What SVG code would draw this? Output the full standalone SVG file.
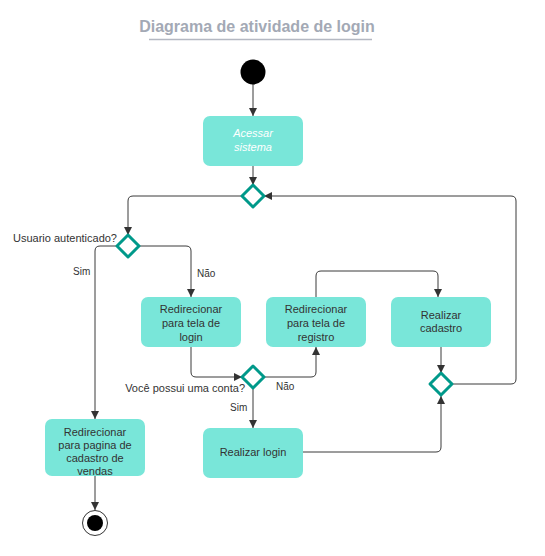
<svg xmlns="http://www.w3.org/2000/svg" width="545" height="556" viewBox="0 0 545 556">
<style>
  text { font-family: "Liberation Sans", Arial, sans-serif; fill: #333333; }
  .title { font-size: 16px; font-weight: bold; fill: #A3A9B5; }
  .box { fill: #79E6D9; }
  .bt { font-size: 11px; text-anchor: middle; }
  .it { font-size: 11px; text-anchor: middle; font-style: italic; fill: #FFFFFF; }
  .lbl { font-size: 11px; }
  .sm { font-size: 10px; }
  .dia { fill: #FFFFFF; stroke: #00998A; stroke-width: 3; stroke-linejoin: round; }
  .conn path { fill: none; stroke: #3A3A3A; stroke-width: 1; marker-end: url(#arr); }
</style>
<defs>
  <marker id="arr" markerUnits="userSpaceOnUse" markerWidth="9" markerHeight="9" refX="8" refY="4" orient="auto">
    <path d="M0,0 L8,4 L0,8 z" fill="#333333"/>
  </marker>
</defs>
<rect width="545" height="556" fill="#FFFFFF"/>
<g id="title">
  <text class="title" x="257" y="32" text-anchor="middle">Diagrama de atividade de login</text>
  <line x1="149" y1="39.5" x2="372" y2="39.5" stroke="#B4B8C2" stroke-width="1.5"/>
</g>
<g class="conn" id="connectors">
  <path d="M253,84 V116"/>
  <path d="M253,166 V185"/>
  <path d="M242,196 H133 Q128,196 128,201 V235"/>
  <path d="M117,246 H100 Q95,246 95,251 V419"/>
  <path d="M139,246 H186 Q191,246 191,251 V297"/>
  <path d="M191,347 V372 Q191,377 196,377 H242"/>
  <path d="M264,377 H311 Q316,377 316,372 V347"/>
  <path d="M316,297 V276 Q316,271 321,271 H433 Q438,271 438,276 V297"/>
  <path d="M441,347 V373"/>
  <path d="M253,388 V428"/>
  <path d="M303,452 H436 Q441,452 441,447 V396"/>
  <path d="M452,384 H511 Q516,384 516,379 V201 Q516,196 511,196 H264"/>
  <path d="M95,476 V510"/>
</g>
<g id="labels">
  <text class="lbl" x="117" y="242" text-anchor="end">Usuario autenticado?</text>
  <text class="sm" x="73" y="275">Sim</text>
  <text class="sm" x="197" y="277">Não</text>
  <text class="lbl" x="245" y="392" text-anchor="end">Você possui uma conta?</text>
  <text class="sm" x="276" y="390">Não</text>
  <text class="sm" x="230" y="411">Sim</text>
</g>
<g id="start"><circle cx="253" cy="72" r="12.5" fill="#000000"/></g>
<g id="acessar">
  <rect class="box" x="203" y="116" width="100" height="50" rx="7"/>
  <text class="it" x="253" y="137">Acessar</text>
  <text class="it" x="253" y="150.5">sistema</text>
</g>
<g id="merge1"><path class="dia" d="M253,185 L264,196 L253,207 L242,196 z"/></g>
<g id="decisao-autenticado"><path class="dia" d="M128,235 L139,246 L128,257 L117,246 z"/></g>
<g id="redir-login">
  <rect class="box" x="141" y="297" width="100" height="50" rx="7"/>
  <text class="bt" x="191" y="313">Redirecionar</text>
  <text class="bt" x="191" y="327">para tela de</text>
  <text class="bt" x="191" y="340.5">login</text>
</g>
<g id="redir-registro">
  <rect class="box" x="266" y="297" width="100" height="50" rx="7"/>
  <text class="bt" x="316" y="313">Redirecionar</text>
  <text class="bt" x="316" y="327">para tela de</text>
  <text class="bt" x="316" y="340.5">registro</text>
</g>
<g id="realizar-cadastro">
  <rect class="box" x="391" y="297" width="100" height="50" rx="7"/>
  <text class="bt" x="441" y="319">Realizar</text>
  <text class="bt" x="441" y="332">cadastro</text>
</g>
<g id="decisao-conta"><path class="dia" d="M253,366 L264,377 L253,388 L242,377 z"/></g>
<g id="merge2"><path class="dia" d="M441,373 L452,384 L441,395 L430,384 z"/></g>
<g id="realizar-login">
  <rect class="box" x="203" y="428" width="100" height="50" rx="7"/>
  <text class="bt" x="253" y="456">Realizar login</text>
</g>
<g id="redir-vendas">
  <rect class="box" x="45" y="419" width="100" height="57" rx="7"/>
  <text class="bt" x="95" y="435.5">Redirecionar</text>
  <text class="bt" x="95" y="448.7">para pagina de</text>
  <text class="bt" x="95" y="462">cadastro de</text>
  <text class="bt" x="95" y="475">vendas</text>
</g>
<g id="end">
  <circle cx="95" cy="523" r="12.5" fill="#FFFFFF" stroke="#000000" stroke-width="0.8"/>
  <circle cx="95" cy="523" r="8" fill="#000000"/>
</g>
</svg>
